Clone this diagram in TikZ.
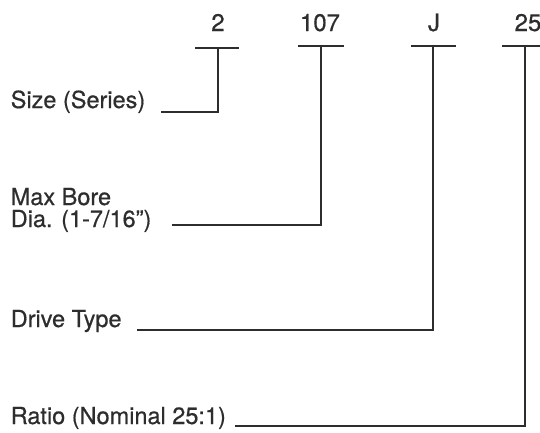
\documentclass[tikz,border=0pt]{standalone}
\usepackage{fontspec}
\setmainfont{TeX Gyre Heros}[FakeBold=0.6]
\usetikzlibrary{positioning}
\definecolor{ink}{RGB}{45,45,45}

\begin{document}
\begin{tikzpicture}[x=1pt, y=-1pt, line width=1.5pt, draw=ink, text=ink,
		l/.style={inner sep=0pt, anchor=base west, font=\fontsize{23.5}{23.5}\selectfont},
		c/.style={inner sep=0pt, anchor=base, font=\fontsize{24}{24}\selectfont},
		bar/.style={line width=1.6pt}]
		\useasboundingbox (0,0) rectangle (540,432);

		% part number
		\node[c] (c2) at (218,31) {2};
		\node[c] (c107) at (320,31) {107};
		\node[c] (cJ) at (434,31) {J};
		\node[c] (c25) at (528,31) {25};

		\coordinate (t2) at (218,48);
		\coordinate (t107) at (321,46);
		\coordinate (tJ) at (433,46);
		\coordinate (t25) at (525,46);

		% labels
		\node[l] (size) at (10,108) {Size (Series)};
		\node[l] (bore) at (10,205) {Max Bore};
		\node[l, below=22pt of bore.base west, anchor=base west] (dia) {Dia. (1-7/16")};
		\node[l] (drive) at (10,327) {Drive Type};
		\node[l] (ratio) at (10,424) {Ratio (Nominal 25:1)};

		\coordinate (s2) at (161,112);
		\coordinate (s107) at (172,225);
		\coordinate (sJ) at (137,330);
		\coordinate (s25) at (235,426);

		\draw[bar] ([xshift=-23pt]t2) -- ([xshift=21pt]t2);
		\draw[bar] ([xshift=-23pt]t107) -- ([xshift=23pt]t107);
		\draw[bar] ([xshift=-22pt]tJ) -- ([xshift=23pt]tJ);
		\draw[bar] ([xshift=-23pt]t25) -- ([xshift=23pt]t25);

		\draw (t2) |- (s2);
		\draw (t107) |- (s107);
		\draw (tJ) |- (sJ);
		\draw (t25) |- (s25);
	\end{tikzpicture}
\end{document}
